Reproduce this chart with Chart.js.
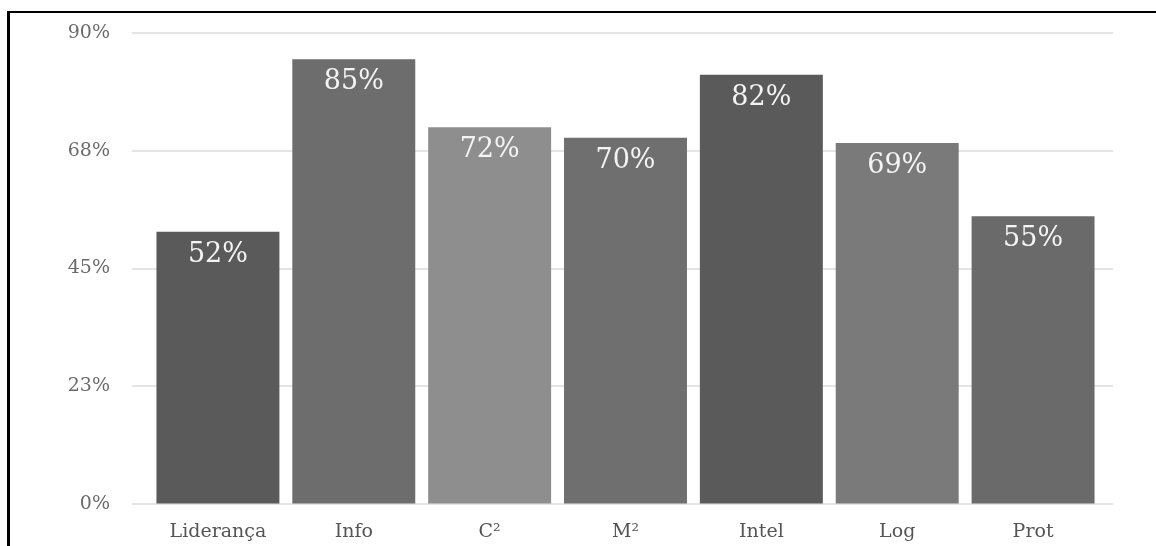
<!DOCTYPE html>
<html lang="pt">
<head>
  <meta charset="UTF-8" />
  <title>Percentuais por área</title>
  <script src="https://cdn.jsdelivr.net/npm/chart.js"></script>
  <style>
    html, body { margin: 0; padding: 0; background: #fff; }
    body { width: 1156px; height: 546px; position: relative; overflow: hidden; }
    .frame {
      position: absolute; left: 7px; top: 11px; width: 1160px; height: 560px;
      border-top: 2px solid #000; border-left: 3px solid #000;
    }
    #chart { position: absolute; left: 0; top: 0; }
  </style>
</head>
<body>
  <div class="frame"></div>
  <canvas id="chart" width="1156" height="546"></canvas>

  <script>
    const categories = ['Liderança', 'Info', 'C²', 'M²', 'Intel', 'Log', 'Prot'];
    const values = [52, 85, 72, 70, 82, 69, 55];
    const barColors = ['#5a5a5a', '#6d6d6d', '#8e8e8e', '#6f6f6f', '#5a5a5a', '#7a7a7a', '#6a6a6a'];
    const yMax = 90;
    const yStep = 22.5;

    const FONT = "'DejaVu Serif', serif";

    // light horizontal lines that run a bit past the plot area on both sides
    const gridPlugin = {
      id: 'grid',
      beforeDatasetsDraw(chart) {
        const { ctx, scales: { y } } = chart;
        ctx.save();
        ctx.strokeStyle = '#e4e4e4';
        ctx.lineWidth = 2;
        y.ticks.forEach(t => {
          const py = Math.round(y.getPixelForValue(t.value));
          ctx.beginPath();
          ctx.moveTo(132, py);
          ctx.lineTo(1113, py);
          ctx.stroke();
        });
        ctx.restore();
      }
    };

    // white value labels near the top of each bar
    const valueLabels = {
      id: 'valueLabels',
      afterDatasetsDraw(chart) {
        const { ctx } = chart;
        const meta = chart.getDatasetMeta(0);
        ctx.save();
        ctx.fillStyle = '#f4f4f4';
        ctx.font = '27px ' + FONT;
        ctx.textAlign = 'center';
        ctx.textBaseline = 'middle';
        meta.data.forEach((bar, i) => {
          ctx.fillText(values[i] + '%', bar.x, bar.y + 23);
        });
        ctx.restore();
      }
    };

    new Chart(document.getElementById('chart').getContext('2d'), {
      type: 'bar',
      data: {
        labels: categories,
        datasets: [{
          data: values,
          backgroundColor: barColors,
          borderWidth: 0,
          categoryPercentage: 1,
          barPercentage: 0.905
        }]
      },
      options: {
        responsive: false,
        animation: false,
        layout: { padding: { top: 33, right: 55, bottom: 0, left: 0 } },
        plugins: { legend: { display: false }, tooltip: { enabled: false } },
        scales: {
          x: {
            grid: { display: false },
            border: { display: false },
            ticks: { color: '#555', padding: 9, font: { family: FONT, size: 19 } },
            afterFit(s) { s.height = 42; }
          },
          y: {
            min: 0,
            max: yMax,
            // grid lines come from the plugin; ticks kept only as invisible spacing
            grid: { drawOnChartArea: false, drawTicks: true, tickLength: 38, tickColor: 'transparent' },
            border: { display: false },
            ticks: {
              stepSize: yStep,
              color: '#6a6a6a',
              padding: 2,
              font: { family: FONT, size: 19 },
              callback: v => Math.round(v) + '%'
            },
            afterFit(s) { s.width = 150; }
          }
        }
      },
      plugins: [gridPlugin, valueLabels]
    });
  </script>
</body>
</html>
